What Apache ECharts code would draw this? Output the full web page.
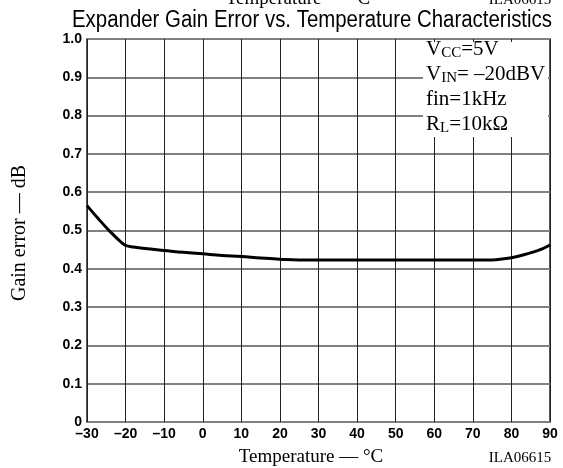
<!DOCTYPE html>
<html><head><meta charset="utf-8">
<script src="https://cdn.jsdelivr.net/npm/echarts@6/dist/echarts.min.js"></script>
<style>html,body{margin:0;padding:0;background:#fff}#c{width:563px;height:468px}</style>
</head><body><div id="c"></div>
<script>
const temps = [-30,-27,-24,-21,-20,-18,-15,-10,-5,0,5,10,15,20,25,30,40,50,60,70,75,78,80,83,86,88,90];
const gainError = [0.565,0.530,0.497,0.468,0.461,0.457,0.453,0.448,0.443,0.439,0.435,0.432,0.428,0.425,0.423,0.423,0.423,0.423,0.423,0.423,0.423,0.426,0.429,0.436,0.445,0.452,0.462];
const xTicks = [-30,-20,-10,0,10,20,30,40,50,60,70,80,90];
const yTicks = [0,0.1,0.2,0.3,0.4,0.5,0.6,0.7,0.8,0.9,1.0];
const titleText = 'Expander Gain Error vs. Temperature Characteristics';
const xName = 'Temperature \u2014 \u00B0C';
const yName = 'Gain error \u2014 dB';
const figId = 'ILA06615';

const serif = '"Liberation Serif","Times New Roman",serif';
const sans = '"Liberation Sans",Arial,sans-serif';
const titleFont = '23px ' + sans;
const cv = document.createElement('canvas').getContext('2d');
cv.font = titleFont;
const titleScale = 480 / cv.measureText(titleText).width;

const chart = echarts.init(document.getElementById('c'), null, {renderer:'canvas'});
const rich = {
  m:{fontFamily:serif,fontSize:21,color:'#000'},
  s:{fontFamily:serif,fontSize:15,color:'#000',padding:[9,0,0,0]}
};
chart.setOption({
  animation:false,
  grid:{left:87,right:13,top:39,bottom:46,show:true,borderColor:'#222',borderWidth:1.5,backgroundColor:'transparent'},
  xAxis:{type:'value',min:-30,max:90,interval:10,
    axisLine:{show:false},axisTick:{show:false},
    splitLine:{show:true,lineStyle:{color:'#222',width:1}},
    axisLabel:{fontFamily:sans,fontWeight:'bold',fontSize:14,color:'#000',margin:5,
      customValues:xTicks,
      formatter:v=>v<0?'\u2013'+Math.abs(v):String(v)}},
  yAxis:{type:'value',min:0,max:1.0,interval:0.1,
    axisLine:{show:false},axisTick:{show:false},
    splitLine:{show:true,lineStyle:{color:'#808080',width:2}},
    axisLabel:{fontFamily:sans,fontWeight:'bold',fontSize:14,color:'#000',margin:5,
      formatter:v=>v===0?'0':v.toFixed(1)}},
  series:[{type:'line',data:temps.map((t,i)=>[t,gainError[i]]),smooth:0.4,showSymbol:false,
    lineStyle:{color:'#000',width:3},z:5}],
  graphic:[
    {type:'text',x:298,y:9,z:10,style:{text:xName,font:'19px '+serif,fill:'#000',textAlign:'center',textVerticalAlign:'bottom'}},
    {type:'text',x:520,y:8,z:10,style:{text:figId,font:'15px '+serif,fill:'#000',textAlign:'center',textVerticalAlign:'bottom'}},
    {type:'text',x:312,y:21,scaleX:titleScale,originX:0,z:10,style:{text:titleText,font:titleFont,fill:'#000',textAlign:'center',textVerticalAlign:'middle'}},
    {type:'text',x:311,y:457,z:10,style:{text:xName,font:'19px '+serif,fill:'#000',textAlign:'center',textVerticalAlign:'middle'}},
    {type:'text',x:520,y:458,z:10,style:{text:figId,font:'15px '+serif,fill:'#000',textAlign:'center',textVerticalAlign:'middle'}},
    {type:'text',x:20,y:233,rotation:Math.PI/2,z:10,style:{text:yName,font:'20px '+serif,fill:'#000',textAlign:'center',textVerticalAlign:'middle'}},
    {type:'rect',shape:{x:423,y:42,width:125,height:95},style:{fill:'#fff'},z:8},
    {type:'text',x:426,y:49,z:10,style:{text:'{m|V}{s|CC}{m|=5V}',textVerticalAlign:'middle',rich:rich}},
    {type:'text',x:426,y:74,z:10,style:{text:'{m|V}{s|IN}{m|= \u201320dBV}',textVerticalAlign:'middle',rich:rich}},
    {type:'text',x:426,y:99,z:10,style:{text:'{m|fin=1kHz}',textVerticalAlign:'middle',rich:rich}},
    {type:'text',x:426,y:124,z:10,style:{text:'{m|R}{s|L}{m|=10k\u03A9}',textVerticalAlign:'middle',rich:rich}}
  ]
});
</script></body></html>
